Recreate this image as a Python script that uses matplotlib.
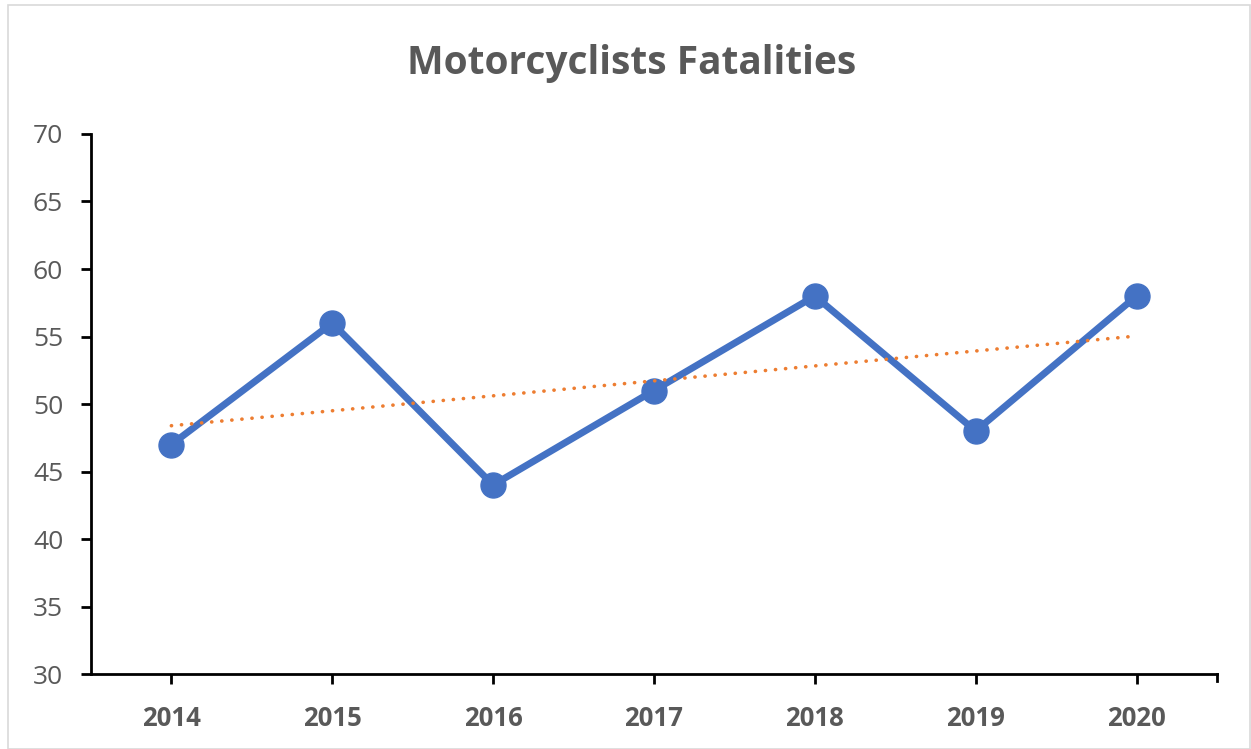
import matplotlib.pyplot as plt
import numpy as np

# Data
years = ["2014", "2015", "2016", "2017", "2018", "2019", "2020"]
fatalities = [47, 56, 44, 51, 58, 48, 58]

plt.rcParams['font.family'] = ['Open Sans', 'DejaVu Sans']

fig = plt.figure(figsize=[12.51, 7.49], dpi=100)
ax = fig.add_axes([0.0727, 0.1001, 0.9001, 0.7210])

x = np.arange(len(years))
ax.plot(x, fatalities, color="#4472C4", linewidth=5, marker="o",
        markersize=18, solid_capstyle="round", zorder=3)

# Linear trendline (drawn on top, round dots)
slope, icpt = np.polyfit(x, fatalities, 1)
ax.plot(x, slope * x + icpt, color="#ED7D31", linewidth=2.6,
        linestyle=(0, (0.05, 2.75)), dash_capstyle="round", zorder=4)

ax.set_xlim(-0.5, len(years) - 0.5)
ax.set_ylim(30, 70)
ax.set_yticks(range(30, 71, 5))
ax.set_xticks(np.arange(-0.5, len(years), 1), minor=False)
ax.set_xticklabels([])
ax.set_xticks(x, minor=True)
ax.set_xticklabels(years, minor=True)

for s in ["top", "right"]:
    ax.spines[s].set_visible(False)
for s in ["left", "bottom"]:
    ax.spines[s].set_linewidth(2)
    ax.spines[s].set_color("black")

ax.tick_params(axis="y", direction="out", length=7, width=2,
               labelsize=19, labelcolor="#595959", pad=13)
ax.tick_params(axis="x", which="major", length=0)
ax.tick_params(axis="x", which="minor", direction="out", length=7, width=2,
               labelsize=18.5, labelcolor="#595959", pad=15)
for lbl in ax.get_xticklabels(minor=True):
    lbl.set_fontweight("bold")

# right end tick of x axis
ax.plot([1.0, 1.0], [0, -0.012], transform=ax.transAxes, color="black",
        linewidth=2, clip_on=False)

fig.text(0.505, 0.915, "Motorcyclists Fatalities", ha="center", va="center",
         fontsize=28, fontweight="bold", color="#595959")

# light frame round the chart
fig.patches.append(plt.Rectangle((0.0064, 0.0), 0.993, 0.993, transform=fig.transFigure,
                                 fill=False, edgecolor="#D9D9D9", linewidth=1.2))

plt.savefig("out.png", dpi=100)
